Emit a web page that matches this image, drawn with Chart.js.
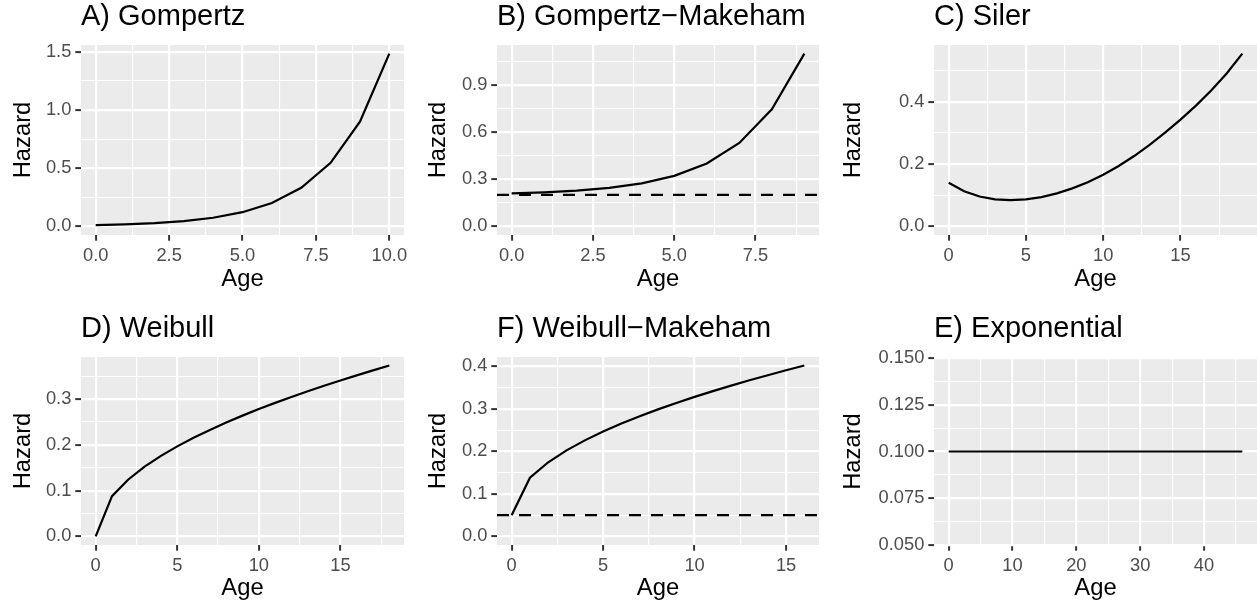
<!DOCTYPE html>
<html>
<head>
<meta charset="utf-8">
<script src="https://cdn.jsdelivr.net/npm/chart.js@4.4.1/dist/chart.umd.min.js"></script>
<style>
  html, body { margin: 0; padding: 0; background: #fff; }
  #root { position: relative; width: 1257px; height: 607px; overflow: hidden; }
  #root canvas { position: absolute; }
</style>
</head>
<body>
<div id="root"></div>
<script>
// hazard curves
const ageA = [0, 1, 2, 3, 4, 5, 6, 7, 8, 9, 10];
const hazA = [0.010, 0.0165, 0.0272, 0.0448, 0.0739, 0.1218, 0.2009, 0.3312, 0.546, 0.9002, 1.4841];

const ageB = [0, 1, 2, 3, 4, 5, 6, 7, 8, 9];
const hazB = [0.21, 0.2165, 0.2272, 0.2448, 0.2739, 0.3218, 0.4009, 0.5312, 0.746, 1.1002];
const makehamB = 0.2;

const ageC = [0, 1, 2, 3, 4, 5, 6, 7, 8, 9, 10, 11, 12, 13, 14, 15, 16, 17, 18, 19];
const hazC = [0.140, 0.113, 0.096, 0.087, 0.084, 0.087, 0.094, 0.106, 0.122, 0.142,
              0.166, 0.194, 0.226, 0.262, 0.301, 0.343, 0.388, 0.437, 0.492, 0.555];

const ageD = [0, 1, 2, 3, 4, 5, 6, 7, 8, 9, 10, 11, 12, 13, 14, 15, 16, 17, 18];
const hazD = [0, 0.088, 0.1245, 0.1524, 0.176, 0.1968, 0.2156, 0.2328, 0.2489, 0.264,
              0.2783, 0.2919, 0.3048, 0.3173, 0.3293, 0.3408, 0.352, 0.3628, 0.3734];

const ageF = [0, 1, 2, 3, 4, 5, 6, 7, 8, 9, 10, 11, 12, 13, 14, 15, 16];
const hazF = [0.05, 0.138, 0.1745, 0.2024, 0.226, 0.2468, 0.2656, 0.2828, 0.2989,
              0.314, 0.3283, 0.3419, 0.3548, 0.3673, 0.3793, 0.3908, 0.402];
const makehamF = 0.05;

const ageE = [0, 1, 2, 3, 4, 5, 6, 7, 8, 9, 10, 11, 12, 13, 14, 15, 16, 17, 18, 19, 20, 21, 22, 23,
              24, 25, 26, 27, 28, 29, 30, 31, 32, 33, 34, 35, 36, 37, 38, 39, 40, 41, 42, 43, 44, 45, 46];
const hazE = [0.1, 0.1, 0.1, 0.1, 0.1, 0.1, 0.1, 0.1, 0.1, 0.1, 0.1, 0.1, 0.1, 0.1, 0.1, 0.1,
              0.1, 0.1, 0.1, 0.1, 0.1, 0.1, 0.1, 0.1, 0.1, 0.1, 0.1, 0.1, 0.1, 0.1, 0.1, 0.1,
              0.1, 0.1, 0.1, 0.1, 0.1, 0.1, 0.1, 0.1, 0.1, 0.1, 0.1, 0.1, 0.1, 0.1, 0.1];

// tick values and labels
const xTicksA = [0, 2.5, 5, 7.5, 10];     const xLabelsA = ['0.0', '2.5', '5.0', '7.5', '10.0'];
const yTicksA = [0, 0.5, 1, 1.5];         const yLabelsA = ['0.0', '0.5', '1.0', '1.5'];
const xTicksB = [0, 2.5, 5, 7.5];         const xLabelsB = ['0.0', '2.5', '5.0', '7.5'];
const yTicksB = [0, 0.3, 0.6, 0.9];       const yLabelsB = ['0.0', '0.3', '0.6', '0.9'];
const xTicksC = [0, 5, 10, 15];           const xLabelsC = ['0', '5', '10', '15'];
const yTicksC = [0, 0.2, 0.4];            const yLabelsC = ['0.0', '0.2', '0.4'];
const xTicksD = [0, 5, 10, 15];           const xLabelsD = ['0', '5', '10', '15'];
const yTicksD = [0, 0.1, 0.2, 0.3];       const yLabelsD = ['0.0', '0.1', '0.2', '0.3'];
const xTicksF = [0, 5, 10, 15];           const xLabelsF = ['0', '5', '10', '15'];
const yTicksF = [0, 0.1, 0.2, 0.3, 0.4];  const yLabelsF = ['0.0', '0.1', '0.2', '0.3', '0.4'];
const xTicksE = [0, 10, 20, 30, 40];      const xLabelsE = ['0', '10', '20', '30', '40'];
const yTicksE = [0.05, 0.075, 0.1, 0.125, 0.15];
const yLabelsE = ['0.050', '0.075', '0.100', '0.125', '0.150'];

const FONT = "'Liberation Sans', Arial, Helvetica, sans-serif";
const TITLE_SIZE = 29;
const AXIS_TITLE_SIZE = 23.8;

// ggplot-style 5% expansion
const expand = (lo, hi) => { const d = (hi - lo) * 0.05; return [lo - d, hi + d]; };

const panels = [
  { title: 'A) Gompertz', age: ageA, haz: hazA, hline: null,
    xT: xTicksA, xL: xLabelsA, yT: yTicksA, yL: yLabelsA,
    cell: [0, 0, 415, 300], box: [81, 45, 404, 235], ageBottom: 6.7 },
  { title: 'B) Gompertz\u2212Makeham', age: ageB, haz: hazB, hline: makehamB,
    xT: xTicksB, xL: xLabelsB, yT: yTicksB, yL: yLabelsB,
    cell: [415, 0, 830, 300], box: [497, 45, 819, 235], ageBottom: 6.7 },
  { title: 'C) Siler', age: ageC, haz: hazC, hline: null,
    xT: xTicksC, xL: xLabelsC, yT: yTicksC, yL: yLabelsC,
    cell: [830, 0, 1257, 300], box: [934, 45, 1257, 235], ageBottom: 6.7 },
  { title: 'D) Weibull', age: ageD, haz: hazD, hline: null,
    xT: xTicksD, xL: xLabelsD, yT: yTicksD, yL: yLabelsD,
    cell: [0, 312, 415, 607], box: [81, 357, 404, 545], ageBottom: 4.7 },
  { title: 'F) Weibull\u2212Makeham', age: ageF, haz: hazF, hline: makehamF,
    xT: xTicksF, xL: xLabelsF, yT: yTicksF, yL: yLabelsF,
    cell: [415, 312, 830, 607], box: [497, 357, 819, 545], ageBottom: 4.7 },
  { title: 'E) Exponential', age: ageE, haz: hazE, hline: null, yLim: [0.05, 0.15],
    xT: xTicksE, xL: xLabelsE, yT: yTicksE, yL: yLabelsE,
    cell: [830, 312, 1257, 607], box: [934, 358, 1257, 545], ageBottom: 4.7 },
];

const panelBg = {
  id: 'panelBg',
  beforeDraw(chart) {
    const { ctx, chartArea: a } = chart;
    ctx.save();
    ctx.fillStyle = '#EBEBEB';
    ctx.fillRect(a.left, a.top, a.right - a.left, a.bottom - a.top);
    ctx.restore();
  },
};

const near = (a, b) => Math.abs(a - b) < 1e-9;

// major ticks plus ggplot-like minor breaks halfway between them
function breaks(major, lo, hi) {
  const half = (major[1] - major[0]) / 2;
  const out = [];
  for (let v = major[0] - half; v <= hi + 1e-9; v += half) {
    if (v >= lo - 1e-9) out.push({ value: +v.toFixed(6) });
  }
  return out;
}

function axis(major, labels, lim, fixSize, title) {
  const isMajor = v => major.some(m => near(m, v));
  return {
    type: 'linear', min: lim[0], max: lim[1],
    afterBuildTicks: s => { s.ticks = breaks(major, lim[0], lim[1]); },
    afterFit: fixSize,
    border: { display: false },
    grid: {
      color: '#FFFFFF',
      lineWidth: c => isMajor(c.tick.value) ? 2.2 : 1.1,
      drawTicks: true, tickLength: 5.7, tickWidth: 2,
      tickColor: c => isMajor(c.tick.value) ? '#333333' : 'rgba(0,0,0,0)',
    },
    ticks: {
      autoSkip: false, maxRotation: 0, minRotation: 0, padding: 4,
      color: '#4D4D4D', font: { family: FONT, size: 18.3 },
      callback: v => { const i = major.findIndex(m => near(m, v)); return i < 0 ? '' : labels[i]; },
    },
    title,
  };
}

const root = document.getElementById('root');

panels.forEach(p => {
  const [cl, ct, cr, cb] = p.cell;
  const [pl, pt, pr, pb] = p.box;
  const cv = document.createElement('canvas');
  cv.width = cr - cl; cv.height = cb - ct;
  cv.style.left = cl + 'px'; cv.style.top = ct + 'px';
  cv.style.width = (cr - cl) + 'px'; cv.style.height = (cb - ct) + 'px';
  root.appendChild(cv);

  const xLim = expand(Math.min(...p.age), Math.max(...p.age));
  const yLim = p.yLim || expand(Math.min(0, ...p.haz), Math.max(...p.haz));

  const datasets = [{
    data: p.age.map((a, i) => ({ x: a, y: p.haz[i] })),
    borderColor: '#000000', borderWidth: 2.2, pointRadius: 0, tension: 0, fill: false,
  }];
  if (p.hline !== null) {
    datasets.push({
      data: [{ x: xLim[0], y: p.hline }, { x: xLim[1], y: p.hline }],
      borderColor: '#000000', borderWidth: 2.2, borderDash: [12, 10], pointRadius: 0, fill: false,
    });
  }

  const titleH = pt - ct;
  const titleLine = TITLE_SIZE * 1.2;
  new Chart(cv, {
    type: 'line',
    data: { datasets },
    options: {
      responsive: false, animation: false, events: [],
      layout: { padding: { left: 0, top: 0, right: cr - pr, bottom: 0 } },
      plugins: {
        legend: { display: false },
        tooltip: { enabled: false },
        title: {
          display: true, text: p.title, align: 'start', fullSize: false, color: '#000000',
          font: { family: FONT, size: TITLE_SIZE, weight: 'normal', lineHeight: 1.2 },
          padding: { top: 0, bottom: titleH - titleLine },
        },
      },
      scales: {
        x: axis(p.xT, p.xL, xLim,
          s => { s.height = cb - pb; s.paddingLeft = 0; s.paddingRight = 0; },
          { display: true, text: 'Age', color: '#000000',
            font: { family: FONT, size: AXIS_TITLE_SIZE, lineHeight: 1.2 },
            padding: { top: 0, bottom: p.ageBottom } }),
        y: axis(p.yT, p.yL, yLim,
          s => { s.width = pl - cl; s.paddingTop = 0; s.paddingBottom = 0; },
          { display: true, text: 'Hazard', color: '#000000',
            font: { family: FONT, size: AXIS_TITLE_SIZE, lineHeight: 1.2 },
            padding: { top: 9.2, bottom: 0 } }),
      },
    },
    plugins: [panelBg],
  });
});
</script>
</body>
</html>
